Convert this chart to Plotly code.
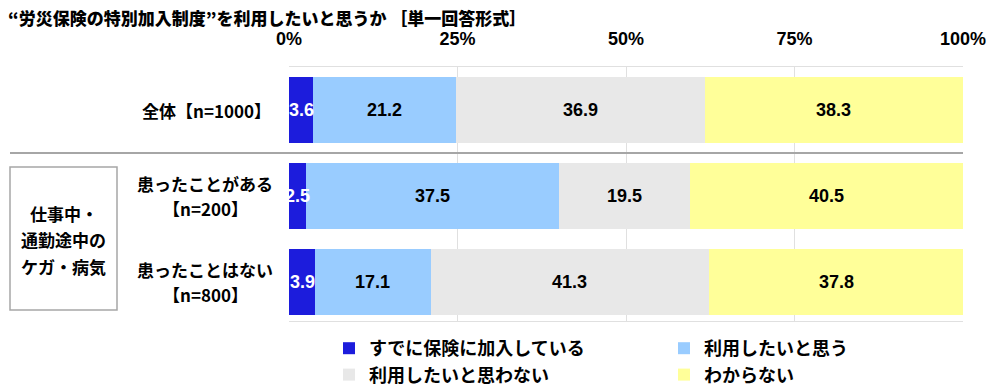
import plotly.graph_objects as go

categories = ["全体", "患ったことがある", "患ったことはない"]
row_label_lines = [["全体【n=1000】"], ["患ったことがある", "【n=200】"], ["患ったことはない", "【n=800】"]]
series_names = ["すでに保険に加入している", "利用したいと思う", "利用したいと思わない", "わからない"]
already = [3.6, 2.5, 3.9]
want = [21.2, 37.5, 17.1]
not_want = [36.9, 19.5, 41.3]
dont_know = [38.3, 40.5, 37.8]
colors = ["#1c1cdc", "#99ccff", "#e8e8e8", "#ffff99"]
text_colors = ["#ffffff", "#000000", "#000000", "#000000"]
tick_vals = [0, 25, 50, 75, 100]
tick_text = ["0%", "25%", "50%", "75%", "100%"]
group_lines = ["仕事中・", "通勤途中の", "ケガ・病気"]
title_text = "“労災保険の特別加入制度”を利用したいと思うか ［単一回答形式］"

JP = "Noto Sans CJK JP"
NUM = "Liberation Sans, Arial"
# page body has an 8px margin; figure placed at (8, 8) inside the 1000x389 window
OFF = 8
W, H = 1000 - 2 * OFF, 389 - OFF
L, R, T, B = 289 - OFF, W - (963 - OFF), 67 - OFF, H - (321 - OFF)
PW = W - L - R
PH = H - T - B

def px2paper(px):
    return (px - OFF - L) / PW

def py2paper(py):
    return 1 - (py - OFF - T) / PH

fig = go.Figure()
all_series = [already, want, not_want, dont_know]
for name, vals, col in zip(series_names, all_series, colors):
    fig.add_trace(go.Bar(
        y=categories, x=vals, name=name, orientation="h",
        marker=dict(color=col, line=dict(width=0)),
        hoverinfo="skip",
    ))

# value labels at segment centres
for ci, cat in enumerate(categories):
    base = 0.0
    for si, vals in enumerate(all_series):
        v = vals[ci]
        fig.add_annotation(x=base + v / 2, y=cat, xref="x", yref="y", text=f"{v:.1f}",
                           showarrow=False, xanchor="center",
                           font=dict(family=NUM, size=18, color=text_colors[si], weight="bold"))
        base += v

# row labels
for cat, lines in zip(categories, row_label_lines):
    n = len(lines)
    for li, line in enumerate(lines):
        if n > 1:
            xpos, xanc = px2paper(205), "center"
        else:
            xpos, xanc = px2paper(273), "right"
        fig.add_annotation(x=xpos, xref="paper", y=cat, yref="y", text=line,
                           showarrow=False, xanchor=xanc,
                           yshift=((n - 1) / 2 - li) * 25,
                           font=dict(family=JP, size=17, color="#000000", weight="bold"))

# group box
fig.add_shape(type="rect", xref="paper", yref="paper", x0=px2paper(10), x1=px2paper(117),
              y0=py2paper(310), y1=py2paper(167), line=dict(color="#a6a6a6", width=1.5),
              fillcolor="rgba(0,0,0,0)")
for li, line in enumerate(group_lines):
    fig.add_annotation(x=px2paper(63.5), xref="paper", y=py2paper(213 + li * 26.5), yref="paper",
                       text=line, showarrow=False, xanchor="center", yanchor="middle",
                       font=dict(family=JP, size=17, color="#000000", weight="bold"))
# separator
fig.add_shape(type="line", xref="paper", yref="y", x0=px2paper(10), x1=1, y0=0.5, y1=0.5,
              line=dict(color="#a6a6a6", width=2))

fig.update_layout(
    width=W, height=H,
    barmode="stack", bargap=0.235,
    paper_bgcolor="#ffffff", plot_bgcolor="#ffffff",
    margin=dict(l=L, r=R, t=T, b=B, autoexpand=False),
    title=dict(text=title_text, x=0.0, xanchor="left", y=1 - (19 - OFF) / H, yanchor="middle",
               font=dict(family=JP, size=17, color="#000000", weight=900)),
    xaxis=dict(side="top", range=[0, 100], tickvals=tick_vals, ticktext=tick_text,
               tickfont=dict(family=NUM, size=18, color="#000000", weight="bold"),
               showgrid=True, gridcolor="#e0e0e0", gridwidth=1,
               showline=True, linecolor="#e0e0e0", mirror=True, zeroline=False,
               ticks="", ticklabelstandoff=14, fixedrange=True),
    yaxis=dict(type="category", categoryorder="array", categoryarray=categories,
               range=[2.45, -0.5], showticklabels=False, showgrid=False,
               showline=False, zeroline=False, ticks=""),
    legend=dict(orientation="h", x=px2paper(329), xanchor="left", y=py2paper(330), yanchor="top",
                entrywidth=290, entrywidthmode="pixels", traceorder="normal",
                font=dict(family=JP, size=18, color="#000000", weight="bold"),
                itemclick=False, itemdoubleclick=False, bgcolor="rgba(0,0,0,0)"),
    showlegend=True,
)

fig.write_html("out.html")
